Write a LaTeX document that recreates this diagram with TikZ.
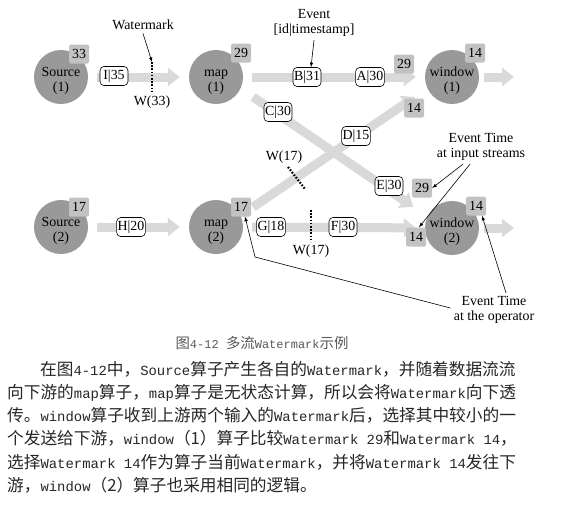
\documentclass[tikz,border=0pt]{standalone}
\usepackage{fontspec}
\setmainfont{Liberation Serif}
\newfontfamily\cjk{Noto Sans CJK SC}[Scale=1.2]
\newfontfamily\paratt{Liberation Mono}
\usepackage{tikz}
\usepackage{xcolor}
\usetikzlibrary{arrows,arrows.meta,calc,positioning,shapes}
\definecolor{opgray}{gray}{0.6}
\definecolor{tsgray}{gray}{0.76}
\definecolor{bandgray}{gray}{0.85}
\newcommand{\zh}[1]{{\cjk #1}}
\newcommand{\opstrut}{\rule{0pt}{16.5pt}}
\tikzset{%
	operator/.style = {circle, fill=opgray, minimum size=54pt, inner sep=-3pt, align=center, font=\fontsize{13.9}{15}\selectfont},
	stamp/.style    = {rectangle, fill=tsgray, rounded corners=1.5pt, minimum width=20pt, minimum height=19pt, inner sep=0pt, font=\fontsize{13.9}{15}\selectfont},
	event/.style    = {draw, rectangle, rounded corners=4pt, fill=white, semithick, minimum width=28pt, minimum height=19pt, inner xsep=1pt, inner ysep=0pt, font=\fontsize{13.9}{15}\selectfont},
	band/.style     = {draw=bandgray, line width=9pt, -{Triangle[width=18pt,length=12pt]}, shorten <=9pt, shorten >=9pt},
	wmline/.style   = {line width=2.2pt, dash pattern=on 1.6pt off 1.6pt},
	note/.style     = {align=center, font=\fontsize{13.9}{15}\selectfont},
	arrow/.style    = {semithick,-latex},
	para/.style     = {anchor=base west, inner sep=0pt, text=black!85, font=\paratt\fontsize{13.9}{16}\selectfont},
}

\begin{document}
\begin{tikzpicture}[x=1pt,y=-1pt]
	\useasboundingbox (0,0) rectangle (564,506);
	% operators
	\node[operator] (src1) at (61,77)  {\opstrut Source\\(1)};
	\node[operator] (map1) at (216,77) {\opstrut map\\(1)};
	\node[operator] (win1) at (452,77) {\opstrut window\\(1)};
	\node[operator] (src2) at (61,227)  {\opstrut Source\\(2)};
	\node[operator] (map2) at (216,227) {\opstrut map\\(2)};
	\node[operator] (win2) at (452,228) {\opstrut window\\(2)};
	
	% streams
	\coordinate (out1) at (514,77);
	\coordinate (out2) at (514,228);
	\draw[band] (src1) -- (map1);
	\draw[band] (map1) -- (win1);
	\draw[band] (src2) -- (map2);
	\draw[band] (map2) -- (win2);
	\draw[band,shorten <=15pt,shorten >=17pt] (map1.-25) -- (win2.155);
	\draw[band,shorten <=15pt,shorten >=15pt] (map2.25) -- (win1.-155);
	\draw[band,shorten <=5pt,shorten >=0pt] (win1) -- (out1);
	\draw[band,shorten <=5pt,shorten >=0pt] (win2) -- (out2);
	
	% events
	\node[event] (eI) at (114,76)  {I|35};
	\node[event] (eB) at (307,77)  {B|31};
	\node[event] (eA) at (370,77)  {A|30};
	\node[event] (eC) at (278,112) {C|30};
	\node[event] (eD) at (356,136) {D|15};
	\node[event] (eE) at (389,186) {E|30};
	\node[event] (eH) at (131,227) {H|20};
	\node[event] (eG) at (271,227) {G|18};
	\node[event] (eF) at (343,227) {F|30};
	
	% event times
	\node[stamp] (s33)   at (79,54)   {33};
	\node[stamp] (s29m1) at (241,53)  {29};
	\node[stamp] (s14w1) at (475,53)  {14};
	\node[stamp] (s29a)  at (404,64)  {29};
	\node[stamp] (s14b)  at (414,108) {14};
	\node[stamp] (s29c)  at (422,188) {29};
	\node[stamp] (s14d)  at (416,237) {14};
	\node[stamp] (s14w2) at (476,206) {14};
	\node[stamp] (s17s2) at (79,207)  {17};
	\node[stamp] (s17m2) at (241,207) {17};
	
	% watermarks
	\coordinate (w33a) at (152,62);
	\coordinate (w33b) at (152,94);
	\coordinate (w17a) at (288,167);
	\coordinate (w17b) at (305,189);
	\coordinate (w17c) at (311,210);
	\coordinate (w17d) at (311,242);
	\draw[wmline] (w33a) -- (w33b);
	\draw[wmline] (w17a) -- (w17b);
	\draw[wmline] (w17c) -- (w17d);
	\node[note] (w33)  at (152,102) {W(33)};
	\node[note] (w17x) at (284,157) {W(17)};
	\node[note] (w17y) at (311,251) {W(17)};
	
	% notes
	\node[note] (wmtext) at (143,25)  {Watermark};
	\node[note] (evtext) at (314,23)  {Event\\{[id|timestamp]}};
	\node[note] (inTime) at (481,147) {Event Time\\at input streams};
	\node[note] (opTime) at (494,310) {Event Time\\at the operator};
	\coordinate (bend) at (255,257);
	\draw[arrow] (wmtext.south) -- (w33a);
	\draw[arrow] (evtext.south) -- ([xshift=4pt]eB.north);
	\draw[arrow] ([xshift=-18pt]inTime.south) -- (s29c.east);
	\draw[arrow] ([xshift=-11pt]inTime.south) -- ([xshift=3pt]s14d.north);
	\draw[arrow] ([xshift=12pt]opTime.north) -- ([xshift=6pt]s14w2.south);
	\draw[arrow] ([yshift=2pt]opTime.west) -- (bend) -- ([xshift=4pt]s17m2.south);
	
	% caption and text
	\node[anchor=base, inner sep=0pt, text=black!65, font=\paratt\fontsize{12}{14}\selectfont] (capt) at (262,348) {\zh{图}4-12 \zh{多流}Watermark\zh{示例}};
	\node[para] (line1) at (40,375.3) {\zh{在图}4-12\zh{中，}Source\zh{算子产生各自的}Watermark\zh{，并随着数据流流}};
	\node[para] (line2) at (7,398.5)  {\zh{向下游的}map\zh{算子，}map\zh{算子是无状态计算，所以会将}Watermark\zh{向下透}};
	\node[para] (line3) at (7,421.7)  {\zh{传。}window\zh{算子收到上游两个输入的}Watermark\zh{后，选择其中较小的一}};
	\node[para] (line4) at (7,444.9)  {\zh{个发送给下游，}window\zh{（1）算子比较}Watermark 29\zh{和}Watermark 14\zh{，}};
	\node[para] (line5) at (7,468.1)  {\zh{选择}Watermark 14\zh{作为算子当前}Watermark\zh{，并将}Watermark 14\zh{发往下}};
	\node[para] (line6) at (7,491.3)  {\zh{游，}window\zh{（2）算子也采用相同的逻辑。}};
\end{tikzpicture}
\end{document}
